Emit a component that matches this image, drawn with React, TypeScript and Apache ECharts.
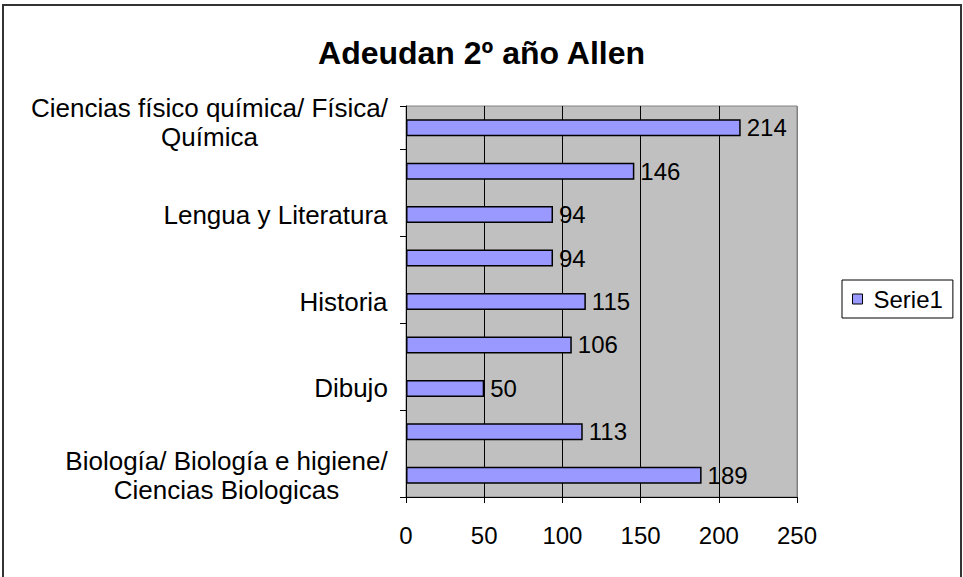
import React, { useEffect, useRef } from "react";
import * as echarts from "echarts";

const TITLE = "Adeudan 2º año Allen";
const SERIES_NAME = "Serie1";
const categories = [
  "Biología/ Biología e higiene/\nCiencias Biologicas",
  "Construcción de la Ciudadanía",
  "Dibujo",
  "Educación Física",
  "Historia",
  "Inglés",
  "Lengua y Literatura",
  "Matemática",
  "Ciencias físico química/ Física/\nQuímica",
];
const values = [189, 113, 50, 106, 115, 94, 94, 146, 214];
const xTicks = [0, 50, 100, 150, 200, 250];

const FONT = "'Liberation Sans', Arial, sans-serif";
const LABEL_SIZE = 26;

function measureWidths(): number[] {
  const c = document.createElement("canvas");
  const ctx = c.getContext("2d");
  return categories.map((cat) => {
    if (!ctx) return 300;
    ctx.font = `${LABEL_SIZE}px ${FONT}`;
    return Math.ceil(Math.max(...cat.split("\n").map((l) => ctx.measureText(l).width)));
  });
}

export default function App() {
  const ref = useRef<HTMLDivElement>(null);
  useEffect(() => {
    if (!ref.current) return;
    const chart = echarts.init(ref.current, null, { renderer: "svg" });
    const widths = measureWidths();
    const rich: Record<string, any> = {
      sp: { fontSize: 1, lineHeight: 10, height: 10 },
    };
    widths.forEach((w, i) => {
      rich["l" + i] = {
        width: w,
        align: "center",
        fontSize: LABEL_SIZE,
        fontFamily: FONT,
        color: "#000",
        lineHeight: 29,
      };
    });
    const lastIdx = categories.length - 1;
    chart.setOption({
      animation: false,
      backgroundColor: "#fff",
      title: {
        text: TITLE,
        left: "center",
        top: 32,
        textStyle: { fontSize: 32, fontWeight: "bold", fontFamily: FONT, color: "#000" },
      },
      legend: {
        left: 842,
        top: 280,
        orient: "vertical",
        padding: [7, 10, 7, 10],
        borderColor: "#000",
        borderWidth: 1,
        itemWidth: 10,
        itemHeight: 10,
        icon: "rect",
        itemStyle: { borderColor: "#000", borderWidth: 1 },
        textStyle: { fontSize: 24, fontFamily: FONT, color: "#000", padding: [0, 0, 0, 6] },
        data: [SERIES_NAME],
      },
      grid: {
        left: 406,
        right: 166,
        top: 106,
        bottom: 80,
        show: true,
        backgroundColor: "#C0C0C0",
        borderColor: "#808080",
        borderWidth: 1,
      },
      xAxis: {
        type: "value",
        min: 0,
        max: 250,
        interval: 50,
        axisLine: { show: true, lineStyle: { color: "#000", width: 1 } },
        axisTick: { show: true, length: 6, lineStyle: { color: "#000" } },
        axisLabel: {
          margin: 26,
          fontSize: 24,
          fontFamily: FONT,
          color: "#000",
          formatter: (v: number) => (xTicks.includes(v) ? String(v) : ""),
        },
        splitLine: {
          show: true,
          lineStyle: { color: ["#C0C0C0", "#000", "#000", "#000", "#000", "#808080"], width: 1 },
        },
      },
      yAxis: {
        type: "category",
        data: categories,
        axisLine: { show: true, lineStyle: { color: "#000", width: 1 } },
        axisTick: { show: true, length: 6, alignWithLabel: false, lineStyle: { color: "#000" } },
        axisLabel: {
          interval: 1,
          margin: 18,
          align: "right",
          fontSize: LABEL_SIZE,
          fontFamily: FONT,
          color: "#000",
          lineHeight: 29,
          formatter: (v: string, i: number) => {
            const body = v.split("\n").map((l) => `{l${i}|${l}}`).join("\n");
            return i === lastIdx ? body + "\n{sp| }" : body;
          },
          rich,
        },
        splitLine: { show: false },
      },
      series: [
        {
          name: SERIES_NAME,
          type: "bar",
          data: values,
          barWidth: 17,
          itemStyle: { color: "#9999FF", borderColor: "#000", borderWidth: 1.5 },
          label: {
            show: true,
            position: "right",
            distance: 6,
            fontSize: 24,
            fontFamily: FONT,
            color: "#000",
          },
        },
      ],
      graphic: [
        {
          type: "rect",
          shape: { x: 3, y: 5, width: 958, height: 600 },
          style: { fill: "none", stroke: "#333", lineWidth: 2 },
          silent: true,
        },
      ],
    });
    return () => chart.dispose();
  }, []);
  return (
    <div
      ref={ref}
      style={{ position: "absolute", left: 0, top: 0, width: 963, height: 577 }}
    />
  );
}
